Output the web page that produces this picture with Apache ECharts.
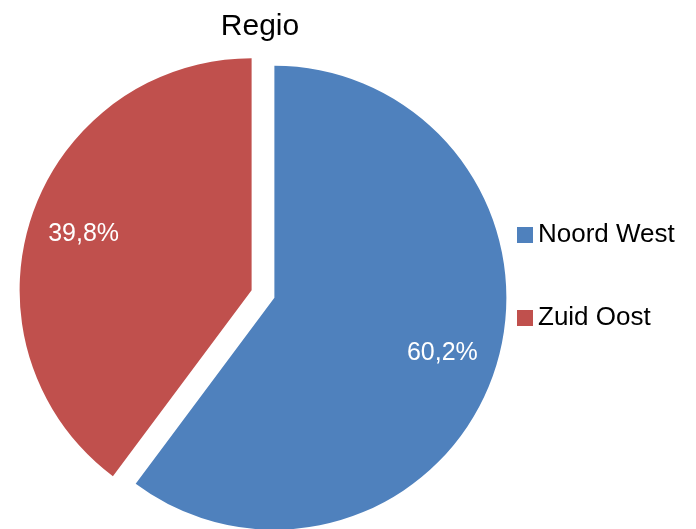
<!DOCTYPE html>
<html>
<head>
<meta charset="utf-8">
<script src="https://cdn.jsdelivr.net/npm/echarts@6/dist/echarts.min.js"></script>
<style>
  html, body { margin: 0; padding: 0; background: #fff; }
  #main { width: 696px; height: 529px; }
</style>
</head>
<body>
<div id="main"></div>
<script>
'use strict'
var regions = ['Noord West', 'Zuid Oost'];
var shares = [60.2, 39.8];
var colors = ['#4F81BD', '#C0504D'];

var font = 'Liberation Sans';
var center = [263, 294];
var outerR = 232;
var offset = 12;

function pieData(){
    return regions.map(function (name, i) {
        return { name: name, value: shares[i], selected: true, itemStyle: { color: colors[i] } };
    });
}

var myChart = echarts.init(document.getElementById('main'));
myChart.setOption({
    animation: false,
    title: {
        text: 'Regio',
        left: 255,
        textAlign: 'center',
        top: 7,
        textStyle: { fontFamily: font, fontSize: 30, fontWeight: 'normal', color: '#000' }
    },
    legend: {
        orient: 'vertical',
        left: 517,
        top: 222,
        padding: 0,
        itemGap: 57,
        itemWidth: 16,
        itemHeight: 16,
        itemTextGap: 8,
        icon: 'rect',
        data: regions,
        textStyle: { fontFamily: font, fontSize: 26, color: '#000' },
        selectedMode: false
    },
    series: [
        {
            // the slices
            type: 'pie',
            center: center,
            radius: outerR,
            startAngle: 90,
            clockwise: true,
            selectedMode: 'multiple',
            selectedOffset: offset,
            select: { itemStyle: {} },
            emphasis: { disabled: true },
            label: { show: false },
            labelLine: { show: false },
            data: pieData()
        },
        {
            // transparent ring, only used to place the percent labels
            type: 'pie',
            center: center,
            radius: [outerR / 2, outerR],
            startAngle: 90,
            clockwise: true,
            silent: true,
            selectedMode: 'multiple',
            selectedOffset: offset,
            select: { itemStyle: {} },
            emphasis: { disabled: true },
            itemStyle: { color: 'rgba(0,0,0,0)' },
            label: {
                show: true,
                position: 'inside',
                color: '#fff',
                fontFamily: font,
                fontSize: 25,
                formatter: function (p) {
                    return p.value.toFixed(1).replace('.', ',') + '%';
                }
            },
            labelLine: { show: false },
            data: regions.map(function (name, i) {
                return { name: name, value: shares[i], selected: true };
            })
        }
    ]
});
</script>
</body>
</html>
